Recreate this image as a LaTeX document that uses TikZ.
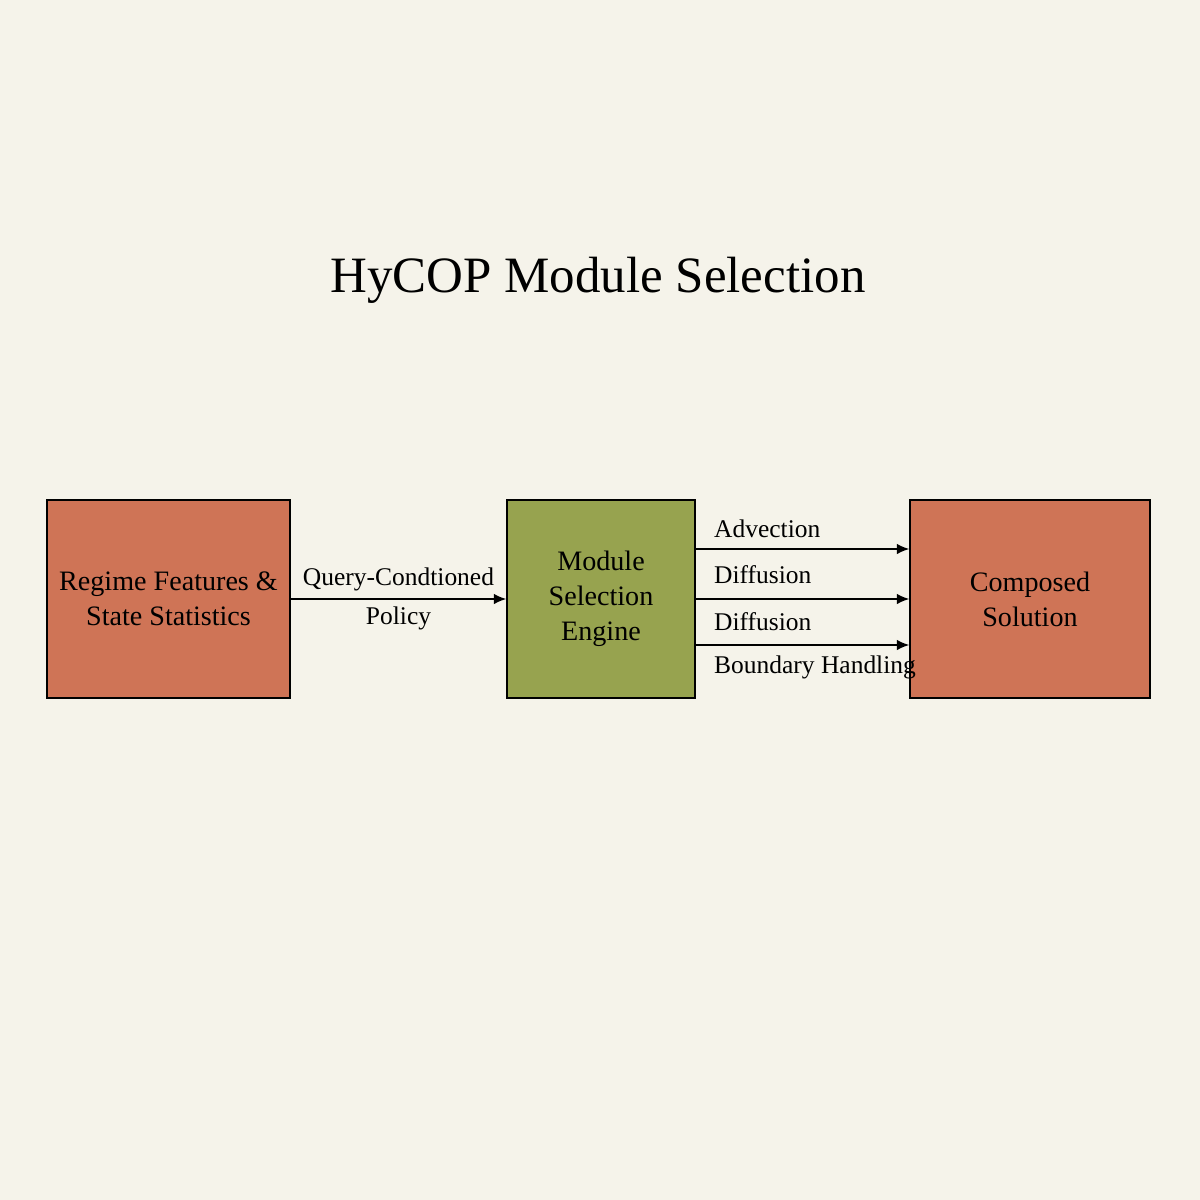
\documentclass[tikz,border=0pt]{standalone}
\usepackage{fontspec}
\setmainfont{Liberation Serif}
\usetikzlibrary{arrows.meta}
\definecolor{bgcol}{HTML}{F5F3EA}
\definecolor{redbox}{HTML}{CF7456}
\definecolor{greenbox}{HTML}{97A34F}
\tikzset{
  blockbox/.style={draw=black,line width=1pt,align=center,font=\fontsize{16pt}{20pt}\selectfont},
  flowarrow/.style={-{Latex[length=7pt,width=6pt]},line width=0.8pt},
  flowlabel/.style={font=\fontsize{14.5pt}{18pt}\selectfont,align=center}
}
\begin{document}
\begin{tikzpicture}[x=0.02cm,y=-0.02cm]
\fill[bgcol] (0,0) rectangle (1200,1200);
\useasboundingbox (0,0) rectangle (1200,1200);

\node[font=\fontsize{29pt}{34pt}\selectfont] (Title) at (598,280) {HyCOP Module Selection};

% boxes
\node[blockbox,fill=redbox,minimum width=4.86cm,minimum height=3.96cm] (Features) at (168.5,599) {Regime Features \&\\State Statistics};
\node[blockbox,fill=greenbox,minimum width=3.76cm,minimum height=3.96cm] (Engine) at (601,599) {Module\\Selection\\Engine};
\node[blockbox,fill=redbox,minimum width=4.8cm,minimum height=3.96cm] (Solution) at (1030,599) {Composed\\Solution};

% connectors
\draw[flowarrow] (Features) -- node[flowlabel,above=1pt] {Query-Condtioned} node[flowlabel,below=1pt] {Policy} (Engine);

\coordinate (EngineA) at (Engine.east |- 0,549);
\coordinate (EngineB) at (Engine.east |- 0,645);
\draw[flowarrow] (EngineA) -- (Solution.west |- EngineA);
\draw[flowarrow] (Engine) -- (Solution);
\draw[flowarrow] (EngineB) -- (Solution.west |- EngineB);

\node[flowlabel,anchor=west] (LabelA) at (708,529) {Advection};
\node[flowlabel,anchor=west] (LabelB) at (708,575) {Diffusion};
\node[flowlabel,anchor=west] (LabelC) at (708,622) {Diffusion};
\node[flowlabel,anchor=west] (LabelD) at (708,667) {Boundary Handling};

\end{tikzpicture}
\end{document}
